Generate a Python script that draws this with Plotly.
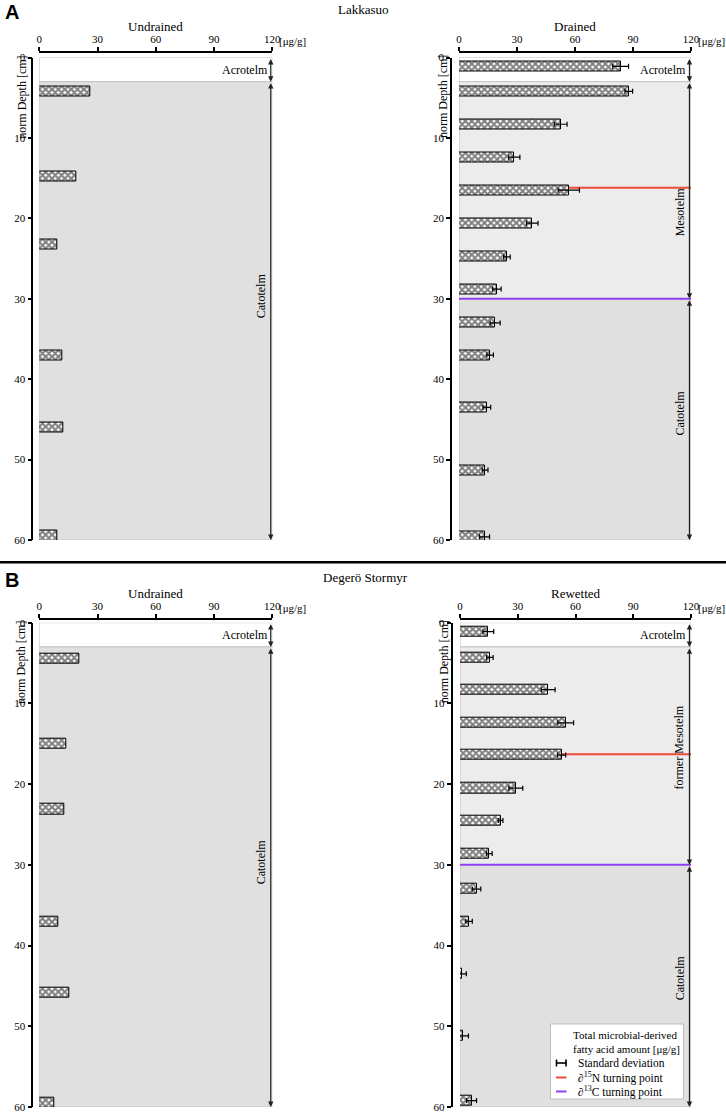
import plotly.graph_objects as go

W, H = 726, 1113

# ---------------- data ----------------
# Lakkasuo, undrained
lak_und_depth = [4.2, 14.8, 23.2, 37.1, 46.0, 59.5]
lak_und_val = [26.1, 18.9, 9.4, 12.0, 12.4, 9.3]

# Lakkasuo, drained
lak_dr_depth = [1.1, 4.2, 8.3, 12.4, 16.5, 20.6, 24.8, 28.8, 33.0, 37.0, 43.5, 51.3, 59.6]
lak_dr_val = [83.6, 87.8, 52.6, 28.6, 56.8, 37.9, 24.8, 19.6, 18.7, 16.1, 14.4, 13.5, 13.2]
lak_dr_err = [4.1, 2.0, 3.3, 2.9, 5.5, 3.0, 1.7, 2.2, 2.6, 1.7, 2.0, 1.5, 2.6]

# Degerö Stormyr, undrained
deg_und_depth = [4.5, 15.0, 23.1, 37.0, 45.8, 59.5]
deg_und_val = [20.4, 13.7, 13.1, 9.6, 15.6, 7.7]

# Degerö Stormyr, rewetted
deg_rw_depth = [1.1, 4.3, 8.3, 12.4, 16.4, 20.5, 24.5, 28.6, 33.0, 37.0, 43.5, 51.2, 59.2]
deg_rw_val = [14.7, 15.5, 45.8, 54.9, 52.8, 29.0, 21.1, 15.2, 8.6, 4.7, 1.2, 1.8, 6.0]
deg_rw_err = [2.8, 1.7, 3.6, 4.1, 2.1, 3.6, 1.2, 1.5, 2.2, 1.7, 2.1, 2.6, 2.6]

# turning points (depth, cm)
lak_n15 = 16.2
lak_c13 = 30.0
deg_n15 = 16.3
deg_c13 = 30.0

# zones: (top, bottom, label, label centre)
und_zones = [(0, 3, "Acrotelm", 1.5), (3, 60, "Catotelm", 29.6)]
dr_zones = [(0, 3, "Acrotelm", 1.5), (3, 30, "Mesotelm", 19.2), (30, 60, "Catotelm", 44.2)]
rw_zones = [(0, 3, "Acrotelm", 1.5), (3, 30, "former Mesotelm", 15.4), (30, 60, "Catotelm", 44.0)]

x_ticks = [0, 30, 60, 90, 120]
x_ticktext = ["0", "30", "60", "90", "120"]
y_ticks = [0, 10, 20, 30, 40, 50, 60]

legend_title = ["Total microbial-derived", "fatty acid amount [μg/g]"]
legend_labels = ["Standard deviation", "∂<sup>15</sup>N turning point", "∂<sup>13</sup>C turning point"]

# ---------------- styling ----------------
SERIF = "Liberation Serif"
RED = "#f04a3a"
PURPLE = "#9140f0"
zone_colors = {"Acrotelm": "white", "Mesotelm": "#ececec", "former Mesotelm": "#ececec", "Catotelm": "#e0e0e0"}

panels = [
    dict(k="", xd=(39.3, 272.3), yd=(57.5, 540), yl=32.3, xl=52, title="Undrained", ty=27,
         depth=lak_und_depth, val=lak_und_val, err=None, zones=und_zones, n15=None, c13=None, ytx=21.7),
    dict(k="2", xd=(459, 691), yd=(57.5, 540), yl=451, xl=52, title="Drained", ty=27,
         depth=lak_dr_depth, val=lak_dr_val, err=lak_dr_err, zones=dr_zones, n15=lak_n15, c13=lak_c13, ytx=443),
    dict(k="3", xd=(39.3, 272.3), yd=(622.7, 1107), yl=32.3, xl=619, title="Undrained", ty=593,
         depth=deg_und_depth, val=deg_und_val, err=None, zones=und_zones, n15=None, c13=None, ytx=21.7),
    dict(k="4", xd=(460, 691), yd=(622.7, 1107), yl=451.5, xl=619, title="Rewetted", ty=593,
         depth=deg_rw_depth, val=deg_rw_val, err=deg_rw_err, zones=rw_zones, n15=deg_n15, c13=deg_c13, ytx=444),
]

fig = go.Figure()
shapes = []
annotations = []
layout_axes = {}

ARROW_X = 119.2

for p in panels:
    k = p["k"]
    xname, yname = "x" + k, "y" + k
    err = None
    if p["err"] is not None:
        err = dict(type="data", array=p["err"], color="black", thickness=1.2, width=2.5)
    fig.add_trace(go.Bar(
        x=p["val"], y=p["depth"], orientation="h", width=1.25,
        marker=dict(color="white", line=dict(color="black", width=1),
                    pattern=dict(shape="x", fgcolor="black", bgcolor="white", size=4.5, solidity=0.7)),
        error_x=err, showlegend=False, hoverinfo="skip",
        xaxis=xname, yaxis=yname))

    layout_axes["xaxis" + k] = dict(
        domain=[p["xd"][0] / W, p["xd"][1] / W], range=[0, 120], side="top",
        anchor="free", position=1 - p["xl"] / H, automargin=False,
        tickvals=x_ticks, ticktext=x_ticktext, showline=True, linecolor="black", linewidth=1.5,
        ticks="outside", ticklen=4, tickwidth=1.5, tickcolor="black",
        showgrid=False, zeroline=False, fixedrange=True,
        tickfont=dict(family=SERIF, size=11, color="black"))
    layout_axes["yaxis" + k] = dict(
        domain=[1 - p["yd"][1] / H, 1 - p["yd"][0] / H], range=[60, 0],
        anchor="free", position=p["yl"] / W, automargin=False,
        tickvals=y_ticks, showline=True, linecolor="black", linewidth=1.5,
        ticks="outside", ticklen=4, tickwidth=1.5, tickcolor="black",
        showgrid=False, zeroline=False, fixedrange=True,
        tickfont=dict(family=SERIF, size=11, color="black"))

    # zone backgrounds
    for (t, b, lab, c) in p["zones"]:
        shapes.append(dict(type="rect", xref=xname, yref=yname, x0=0, x1=120, y0=t, y1=b,
                           fillcolor=zone_colors[lab], line=dict(color="#c4c4c4", width=1), layer="below"))
    # turning point lines
    if p["n15"] is not None:
        shapes.append(dict(type="line", xref=xname, yref=yname, x0=0, x1=120, y0=p["n15"], y1=p["n15"],
                           line=dict(color=RED, width=2), layer="below"))
    if p["c13"] is not None:
        shapes.append(dict(type="line", xref=xname, yref=yname, x0=0, x1=120, y0=p["c13"], y1=p["c13"],
                           line=dict(color=PURPLE, width=2), layer="below"))

    # zone arrows and labels
    for (t, b, lab, c) in p["zones"]:
        annotations.append(dict(xref=xname, yref=yname, axref=xname, ayref=yname,
                                x=ARROW_X, y=b, ax=ARROW_X, ay=t, text="", showarrow=True,
                                arrowside="end+start", arrowhead=2, arrowsize=0.9, arrowwidth=1.2,
                                arrowcolor="#222", standoff=0, startstandoff=0))
        if lab == "Acrotelm":
            annotations.append(dict(xref=xname, yref=yname, x=ARROW_X, y=c, text=lab, showarrow=False,
                                    xanchor="right", yanchor="middle", xshift=-1,
                                    font=dict(family=SERIF, size=12, color="black")))
        else:
            annotations.append(dict(xref=xname, yref=yname, x=ARROW_X, y=c, text=lab, showarrow=False,
                                    textangle=-90, xanchor="right", yanchor="middle", xshift=-1,
                                    font=dict(family=SERIF, size=12, color="black")))

    # panel title
    annotations.append(dict(xref=xname, yref="paper", x=60, y=1 - p["ty"] / H, text=p["title"],
                            showarrow=False, xanchor="center", yanchor="middle",
                            font=dict(family=SERIF, size=13, color="black")))
    # unit after 120
    annotations.append(dict(xref=xname, yref="paper", x=120, y=1 - (p["xl"] - 11) / H, text="[μg/g]",
                            showarrow=False, xanchor="left", yanchor="middle", xshift=5,
                            font=dict(family=SERIF, size=11, color="black")))
    # y axis title
    annotations.append(dict(xref="paper", yref="paper", x=p["ytx"] / W, y=1 - (p["yd"][0] + 39.5) / H,
                            text="norm Depth [cm]", textangle=-90, showarrow=False,
                            xanchor="center", yanchor="middle",
                            font=dict(family=SERIF, size=12, color="black")))

# ---------------- key box (bottom-right panel) ----------------
LX0, LX1, LY0, LY1 = 550.5, 683.5, 1024, 1099
shapes.append(dict(type="rect", xref="paper", yref="paper", x0=LX0 / W, x1=LX1 / W,
                   y0=1 - LY1 / H, y1=1 - LY0 / H, fillcolor="white",
                   line=dict(color="#bdbdbd", width=1), layer="above"))
for i, t in enumerate(legend_title):
    annotations.append(dict(xref="paper", yref="paper", x=571 / W, y=1 - (1034.5 + 14 * i) / H, text=t,
                            showarrow=False, xanchor="left", yanchor="middle",
                            font=dict(family=SERIF, size=11, color="black")))
entry_y = [1063, 1077.5, 1091.5]
entry_col = ["black", RED, PURPLE]
for i, (t, col) in enumerate(zip(legend_labels, entry_col)):
    yy = 1 - entry_y[i] / H
    annotations.append(dict(xref="paper", yref="paper", x=576 / W, y=yy, text=t,
                            showarrow=False, xanchor="left", yanchor="middle",
                            font=dict(family=SERIF, size=11.5, color="black")))
    shapes.append(dict(type="line", xref="paper", yref="paper", x0=556 / W, x1=566.5 / W, y0=yy, y1=yy,
                       line=dict(color=col, width=2 if i else 1.6)))
    if i == 0:
        for xc in (556.5, 566):
            shapes.append(dict(type="line", xref="paper", yref="paper", x0=xc / W, x1=xc / W,
                               y0=yy - 3.5 / H, y1=yy + 3.5 / H, line=dict(color="black", width=1.6)))

# site headings, panel letters, separator
annotations += [
    dict(xref="paper", yref="paper", x=3 / W, y=1 - 12 / H, text="<b>A</b>", showarrow=False,
         xanchor="left", yanchor="middle", font=dict(family="Liberation Sans", size=20, color="black")),
    dict(xref="paper", yref="paper", x=3 / W, y=1 - 580 / H, text="<b>B</b>", showarrow=False,
         xanchor="left", yanchor="middle", font=dict(family="Liberation Sans", size=20, color="black")),
    dict(xref="paper", yref="paper", x=363 / W, y=1 - 9 / H, text="Lakkasuo", showarrow=False,
         xanchor="center", yanchor="middle", font=dict(family=SERIF, size=13, color="black")),
    dict(xref="paper", yref="paper", x=365 / W, y=1 - 577 / H, text="Degerö Stormyr", showarrow=False,
         xanchor="center", yanchor="middle", font=dict(family=SERIF, size=13, color="black")),
]
shapes.append(dict(type="line", xref="paper", yref="paper", x0=0, x1=1, y0=1 - 562.3 / H, y1=1 - 562.3 / H,
                   line=dict(color="black", width=2.5)))

fig.update_layout(
    width=W, height=H, margin=dict(l=0, r=0, t=0, b=0, autoexpand=False),
    paper_bgcolor="white", plot_bgcolor="white",
    shapes=shapes, annotations=annotations,
    showlegend=False,
    bargap=0,
    **layout_axes,
)

fig.write_html("out.html", config={"displayModeBar": False},
               post_script="document.body.style.margin='0';document.body.style.padding='0';"
                           "document.documentElement.style.overflow='hidden';")
